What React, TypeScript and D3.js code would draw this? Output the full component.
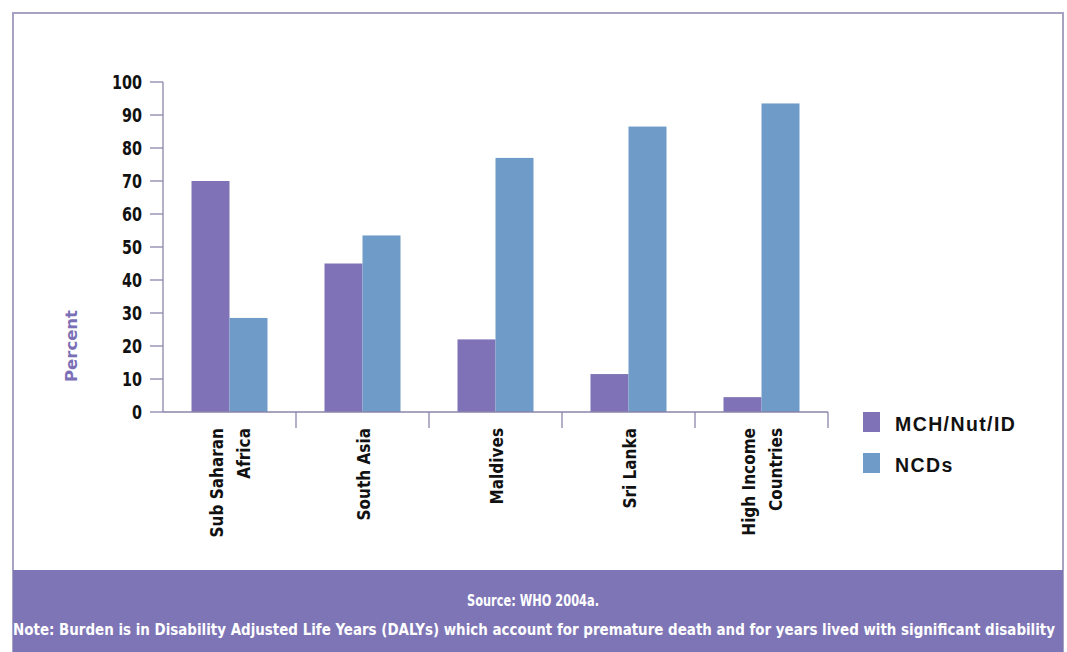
import React from "react";
import * as d3 from "d3";

const categories: string[][] = [
  ["Sub Saharan", "Africa"],
  ["South Asia"],
  ["Maldives"],
  ["Sri Lanka"],
  ["High Income", "Countries"],
];
const seriesNames = ["MCH/Nut/ID", "NCDs"];
const mchValues = [70, 45, 22, 11.5, 4.5];
const ncdValues = [28.5, 53.5, 77, 86.5, 93.5];
const yTicks = [0, 10, 20, 30, 40, 50, 60, 70, 80, 90, 100];
const sourceText = "Source: WHO 2004a.";
const noteText =
  "Note: Burden is in Disability Adjusted Life Years (DALYs) which account for premature death and for years lived with significant disability";

const W = 1067;
const H = 652;
const colors = ["#7f72b6", "#6e9bc8"];
const axisColor = "#8a85aa";
const narrow = "'Liberation Sans Narrow', 'DejaVu Sans Condensed', 'Arial Narrow', sans-serif";

export default function App() {
  const left = 163;
  const right = 828;
  const top = 82;
  const bottom = 412;
  const keys = categories.map((c) => c.join(" "));
  const x0 = d3.scaleBand<string>().domain(keys).range([left, right]).paddingInner(0).paddingOuter(0);
  const x1 = d3
    .scaleBand<string>()
    .domain(seriesNames)
    .range([0, x0.bandwidth()])
    .paddingInner(0)
    .paddingOuter(0.75);
  const y = d3.scaleLinear().domain([0, 100]).range([bottom, top]);
  const series = [mchValues, ncdValues];

  return (
    <div style={{ position: "absolute", left: 0, top: 0 }}>
      <svg width={W} height={H} style={{ display: "block", background: "#ffffff" }}>
        {/* frame */}
        <rect x={13} y={13} width={1050} height={640} fill="#ffffff" stroke="#a6a2c2" strokeWidth={2} />
        {/* bottom band */}
        <rect x={13} y={570} width={1050} height={82} fill="#7e75b7" />
        <text
          x={533}
          y={606}
          textAnchor="middle"
          fill="#ffffff"
          fontFamily={narrow}
          fontWeight="bold"
          fontSize={15}
          textLength={132}
          lengthAdjust="spacingAndGlyphs"
        >
          {sourceText}
        </text>
        <text
          x={534}
          y={635}
          textAnchor="middle"
          fill="#ffffff"
          fontFamily={narrow}
          fontWeight="bold"
          fontSize={15}
          textLength={1042}
          lengthAdjust="spacingAndGlyphs"
        >
          {noteText}
        </text>

        {/* bars */}
        {keys.map((k, i) => (
          <g key={k} transform={`translate(${x0(k)},0)`}>
            {series.map((vals, s) => (
              <rect
                key={s}
                x={x1(seriesNames[s])}
                y={y(vals[i])}
                width={x1.bandwidth()}
                height={y(0) - y(vals[i])}
                fill={colors[s]}
              />
            ))}
          </g>
        ))}

        {/* y axis */}
        <line x1={left} x2={left} y1={top} y2={bottom} stroke={axisColor} strokeWidth={1.3} />
        {yTicks.map((t) => (
          <g key={t}>
            <line x1={150} x2={left} y1={y(t)} y2={y(t)} stroke={axisColor} strokeWidth={1.3} />
            <text
              x={142}
              y={y(t)}
              dy="0.36em"
              textAnchor="end"
              fontFamily={narrow}
              fontWeight="bold"
              fontSize={19}
              fill="#111111"
              textLength={String(t).length * 10}
              lengthAdjust="spacingAndGlyphs"
            >
              {t}
            </text>
          </g>
        ))}
        <text
          transform={`translate(77,346) rotate(-90)`}
          textAnchor="middle"
          fontFamily={narrow}
          fontWeight="bold"
          fontSize={16}
          fill="#7b70b6"
          textLength={72}
          lengthAdjust="spacingAndGlyphs"
        >
          Percent
        </text>

        {/* x axis */}
        <line x1={left} x2={right} y1={bottom} y2={bottom} stroke={axisColor} strokeWidth={1.3} />
        {keys.map((k) => {
          const xr = (x0(k) as number) + x0.bandwidth();
          return <line key={k} x1={xr} x2={xr} y1={bottom} y2={428} stroke={axisColor} strokeWidth={1.3} />;
        })}
        {categories.map((lines, i) => {
          const cx = (x0(keys[i]) as number) + x0.bandwidth() / 2;
          return lines.map((ln, j) => {
            const bx = cx + 7 + (j - (lines.length - 1) / 2) * 27;
            return (
              <text
                key={`${i}-${j}`}
                transform={`translate(${bx},428) rotate(-90)`}
                textAnchor="end"
                fontFamily={narrow}
                fontWeight="bold"
                fontSize={17}
                fill="#111111"
              >
                {ln}
              </text>
            );
          });
        })}

        {/* legend */}
        {seriesNames.map((n, s) => (
          <g key={n} transform={`translate(863,${412 + s * 41})`}>
            <rect x={0} y={0} width={17} height={20} fill={colors[s]} />
            <text
              x={32}
              y={19}
              fontFamily="'Liberation Sans', Arial, sans-serif"
              fontWeight="bold"
              fontSize={19.5}
              letterSpacing={1.4}
              fill="#111111"
            >
              {n}
            </text>
          </g>
        ))}
      </svg>
    </div>
  );
}
